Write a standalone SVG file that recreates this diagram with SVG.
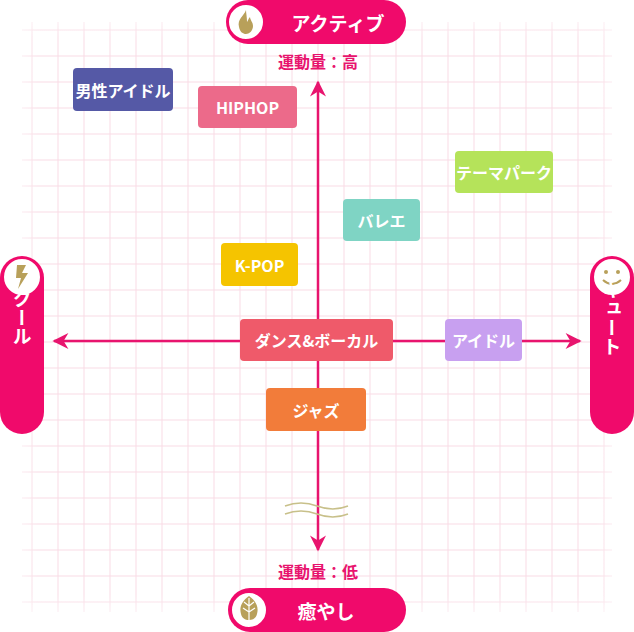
<svg xmlns="http://www.w3.org/2000/svg" width="634" height="632" viewBox="0 0 634 632">
<defs>
<style>
.g{stroke:#f9dbe5;stroke-width:1}
.n text{font-family:"Noto Sans CJK JP","Liberation Sans",sans-serif;font-weight:bold;fill:#fff;font-size:16px;text-anchor:middle;dominant-baseline:central}
.pill{fill:#f00a6b}
.pt{font-family:"Noto Sans CJK JP",sans-serif;font-weight:bold;fill:#fff;font-size:19px;text-anchor:middle;dominant-baseline:central}
.vt{font-family:"Noto Sans CJK JP",sans-serif;font-weight:bold;fill:#fff;font-size:19px;text-anchor:middle;writing-mode:vertical-rl;text-orientation:upright}
.ax{stroke:#e8146e;stroke-width:2.5;fill:none}
.lb{font-family:"Noto Sans CJK JP",sans-serif;font-weight:bold;fill:#e8146e;font-size:16px;text-anchor:middle}
.ic{fill:#fff;stroke:#f00a6b;stroke-width:2}
</style>
<marker id="ar" viewBox="0 0 10 10" refX="9" refY="5" markerWidth="18" markerHeight="16" markerUnits="userSpaceOnUse" orient="auto"><path d="M0,0 L10,5 L0,10 L3,5 Z" fill="#e8146e"/></marker>
<linearGradient id="fx" x1="0" x2="1"><stop offset="0" stop-color="#fff" stop-opacity="1"/><stop offset="0.06" stop-color="#fff" stop-opacity="0"/><stop offset="0.94" stop-color="#fff" stop-opacity="0"/><stop offset="1" stop-color="#fff" stop-opacity="1"/></linearGradient>
<linearGradient id="fy" x1="0" y1="0" x2="0" y2="1"><stop offset="0" stop-color="#fff" stop-opacity="1"/><stop offset="0.06" stop-color="#fff" stop-opacity="0"/><stop offset="0.94" stop-color="#fff" stop-opacity="0"/><stop offset="1" stop-color="#fff" stop-opacity="1"/></linearGradient>
</defs>
<rect width="634" height="632" fill="#fff"/>
<g id="grid" class="g">
<path d="M32 22V612M58 22V612M84 22V612M110 22V612M136 22V612M162 22V612M188 22V612M214 22V612M240 22V612M266 22V612M292 22V612M318 22V612M344 22V612M370 22V612M396 22V612M422 22V612M448 22V612M474 22V612M500 22V612M526 22V612M552 22V612M578 22V612M604 22V612"/>
<path d="M22 30H612M22 56H612M22 82H612M22 108H612M22 134H612M22 160H612M22 186H612M22 212H612M22 238H612M22 264H612M22 290H612M22 316H612M22 342H612M22 368H612M22 394H612M22 420H612M22 446H612M22 472H612M22 498H612M22 524H612M22 550H612M22 576H612M22 602H612"/>
</g>
<rect x="0" y="0" width="634" height="632" fill="url(#fx)"/>
<rect x="0" y="0" width="634" height="632" fill="url(#fy)"/>
<g id="connectors">
<line class="ax" x1="318" y1="330" x2="318" y2="82" marker-end="url(#ar)"/>
<line class="ax" x1="318" y1="330" x2="318" y2="550" marker-end="url(#ar)"/>
<line class="ax" x1="318" y1="341" x2="54" y2="341" marker-end="url(#ar)"/>
<line class="ax" x1="318" y1="341" x2="580" y2="341" marker-end="url(#ar)"/>
<path d="M285 506q16-6 32 0t31 0M285 514q16-6 32 0t31 0" fill="none" stroke="#c8c08a" stroke-width="1.5"/>
</g>
<g id="top">
<rect class="pill" x="226" y="0" width="180" height="44" rx="22"/>
<circle class="ic" cx="246" cy="22" r="18"/>
<path d="M246 10c-2 6-9 9-7 17 1 5 4 7 7 7s7-3 7-8c0-4-3-6-3-9-2 2-2 4-3 5 0-5-1-9-1-12z" fill="#b8a05a"/>
<text class="pt" x="338" y="22">アクティブ</text>
<text class="lb" x="318" y="68">運動量：高</text>
</g>
<g id="bottom">
<rect class="pill" x="228" y="588" width="178" height="44" rx="22"/>
<circle class="ic" cx="249" cy="610" r="18"/>
<path d="M249 596c-7 5-10 11-8 18 1 4 4 6 8 6s7-2 8-6c2-7-1-13-8-18z" fill="#b8a05a"/>
<path d="M249 598V620M249 606l-5-4M249 606l5-4M249 612l-6-4M249 612l6-4" stroke="#fff" stroke-width="1.2" fill="none"/>
<text class="pt" x="326" y="610">癒やし</text>
<text class="lb" x="318" y="578">運動量：低</text>
</g>
<g id="left">
<rect class="pill" x="0" y="256" width="44" height="178" rx="22"/>
<circle class="ic" cx="22" cy="277" r="19"/>
<path d="M17 265h9l-4 8h6l-10 16 3-11h-5z" fill="#b8a05a"/>
<text class="vt" x="22" y="318">クール</text>
</g>
<g id="right">
<rect class="pill" x="590" y="256" width="44" height="178" rx="22"/>
<circle class="ic" cx="612" cy="277" r="19"/>
<circle cx="606" cy="272" r="2" fill="#b8a05a"/><circle cx="618" cy="272" r="2" fill="#b8a05a"/>
<path d="M603 280q9 8 18 0" fill="none" stroke="#b8a05a" stroke-width="2"/>
<text class="vt" x="612" y="318">キュート</text>
</g>
<g id="n1" class="n"><rect x="73" y="68" width="100" height="43" rx="4" fill="#5559a6"/><text x="123" y="89.5">男性アイドル</text></g>
<g id="n2" class="n"><rect x="198" y="86" width="99" height="42" rx="4" fill="#ec6a8a"/><text x="247.5" y="107">HIPHOP</text></g>
<g id="n3" class="n"><rect x="455" y="151" width="98" height="42" rx="4" fill="#b5e35a"/><text x="504" y="172">テーマパーク</text></g>
<g id="n4" class="n"><rect x="343" y="199" width="77" height="42" rx="4" fill="#7fd4c4"/><text x="381.5" y="220">バレエ</text></g>
<g id="n5" class="n"><rect x="221" y="243" width="77" height="43" rx="4" fill="#f5c400"/><text x="259.5" y="264.5">K-POP</text></g>
<g id="n6" class="n"><rect x="240" y="319" width="153" height="42" rx="4" fill="#ef5a6a"/><text x="316.5" y="340">ダンス&amp;ボーカル</text></g>
<g id="n7" class="n"><rect x="445" y="319" width="77" height="42" rx="4" fill="#c8a0f0"/><text x="483.5" y="340">アイドル</text></g>
<g id="n8" class="n"><rect x="266" y="388" width="100" height="43" rx="4" fill="#f27c3a"/><text x="316" y="409.5">ジャズ</text></g>
</svg>
